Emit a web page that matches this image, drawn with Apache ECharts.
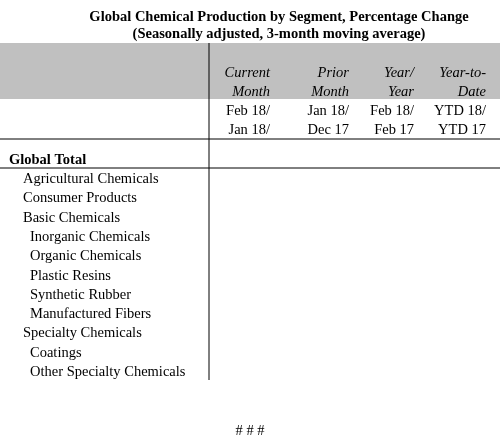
<!DOCTYPE html>
<html>
<head>
<meta charset="utf-8">
<script src="https://cdn.jsdelivr.net/npm/echarts@6/dist/echarts.min.js"></script>
<style>html,body{margin:0;background:#fff}#c{width:502px;height:442px}</style>
</head>
<body>
<div id="c"></div>
<script>
const rows = ["Global Total", "Agricultural Chemicals", "Consumer Products", "Basic Chemicals",
  "Inorganic Chemicals", "Organic Chemicals", "Plastic Resins", "Synthetic Rubber",
  "Manufactured Fibers", "Specialty Chemicals", "Coatings", "Other Specialty Chemicals"];
const levels = [0, 1, 1, 1, 2, 2, 2, 2, 2, 1, 2, 2];
const columns = ["Current Month", "Prior Month", "Year/ Year", "Year-to-Date"];
const headTop = ["Current", "Prior", "Year/", "Year-to-"];
const headBottom = ["Month", "Month", "Year", "Date"];
const periodTop = ["Feb 18/", "Jan 18/", "Feb 18/", "YTD 18/"];
const periodBottom = ["Jan 18/", "Dec 17", "Feb 17", "YTD 17"];
const currentMonth = [-0.8, 0.1, -0.1, 1.1, 3.4, -1.2, -0.8, -1.9, -2.0, 0.6, 0.5, 0.6];
const priorMonth = [-0.7, -0.1, -0.4, 3.7, 1.5, -0.9, 0.0, -1.5, -2.5, 0.7, -0.6, 1.3];
const yearYear = [2.0, -1.9, 2.9, 2.3, 0.8, 4.5, 1.6, -3.0, -0.1, 1.9, -1.5, 3.7];
const yearToDate = [2.4, -1.8, 3.5, 2.5, 0.8, 4.7, 1.6, -1.2, 0.6, 2.8, 1.1, 3.7];

const font = "'Liberation Serif', 'Times New Roman', serif";
const fs = 14.5;
const colRight = [270, 349, 414, 486];
const cols = [currentMonth, priorMonth, yearYear, yearToDate];
// per-column label offset so right edges line up with the header text
const colOffset = [16, 23, 16, 15];

const data = [];
cols.forEach((vals, ci) => vals.forEach((v, ri) => data.push({
  value: [ci, ri, v],
  label: { offset: [colOffset[ci], 0], fontWeight: ri === 0 ? "bold" : "normal" }
})));

const chart = echarts.init(document.getElementById("c"), null, { renderer: "canvas" });

const graphics = [
  { type: "rect", shape: { x: 0, y: 43, width: 500, height: 56 }, style: { fill: "#c0c0c0" }, z: 0 },
  { type: "line", shape: { x1: 209, y1: 43, x2: 209, y2: 380 }, style: { stroke: "#000", lineWidth: 1 } },
  { type: "line", shape: { x1: 0, y1: 139, x2: 500, y2: 139 }, style: { stroke: "#000", lineWidth: 1 } },
  { type: "line", shape: { x1: 0, y1: 168, x2: 500, y2: 168 }, style: { stroke: "#000", lineWidth: 1 } },
  { type: "text", x: 279, y: 17, style: { text: "Global Chemical Production by Segment, Percentage Change", font: "bold " + fs + "px " + font, fill: "#000", align: "center", verticalAlign: "middle" } },
  { type: "text", x: 279, y: 34, style: { text: "(Seasonally adjusted, 3-month moving average)", font: "bold " + fs + "px " + font, fill: "#000", align: "center", verticalAlign: "middle" } },
  { type: "text", x: 250, y: 431, style: { text: "# # #", font: fs + "px " + font, fill: "#000", align: "center", verticalAlign: "middle" } }
];
colRight.forEach((x, i) => {
  [[headTop[i], 73, "italic "], [headBottom[i], 92, "italic "], [periodTop[i], 111, ""], [periodBottom[i], 130, ""]].forEach(([t, y, st]) => {
    graphics.push({ type: "text", x: x, y: y, style: { text: t, font: st + fs + "px " + font, fill: "#000", align: "right", verticalAlign: "middle" } });
  });
});

chart.setOption({
  animation: false,
  grid: { left: 218, right: -6, top: 150.4, height: 231.3 },
  xAxis: { type: "category", data: columns, show: false },
  yAxis: {
    type: "category", data: rows, inverse: true,
    axisLine: { show: false }, axisTick: { show: false },
    axisLabel: {
      align: "left", margin: 209,
      formatter: (v, i) => "{l" + levels[i] + "|" + v + "}",
      rich: {
        l0: { fontFamily: font, fontSize: fs, fontWeight: "bold", color: "#000" },
        l1: { fontFamily: font, fontSize: fs, color: "#000", padding: [0, 0, 0, 14] },
        l2: { fontFamily: font, fontSize: fs, color: "#000", padding: [0, 0, 0, 21] }
      }
    }
  },
  series: [{
    type: "scatter", symbolSize: 1, data: data,
    itemStyle: { opacity: 0 },
    label: {
      show: true, position: "inside", align: "right",
      fontFamily: font, fontSize: fs, color: "#000",
      formatter: p => p.value[2].toFixed(1)
    }
  }],
  graphic: graphics
});
</script>
</body>
</html>
